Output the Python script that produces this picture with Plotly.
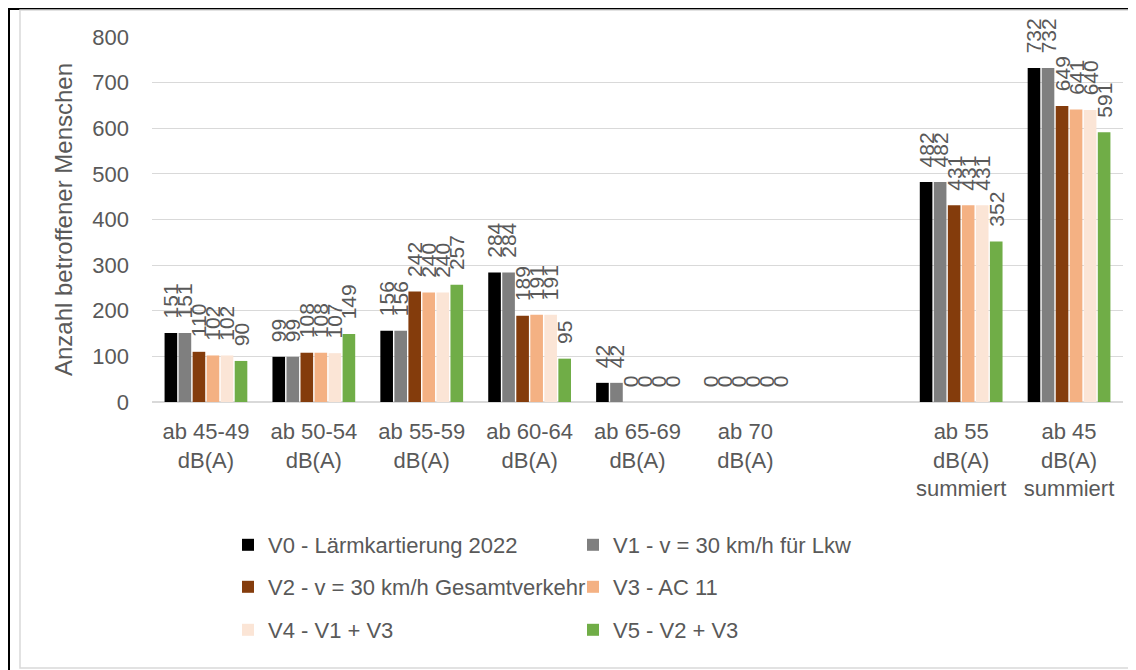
import plotly.graph_objects as go

categories = [
    "ab 45-49<br>dB(A)", "ab 50-54<br>dB(A)", "ab 55-59<br>dB(A)", "ab 60-64<br>dB(A)",
    "ab 65-69<br>dB(A)", "ab 70<br>dB(A)", " ",
    "ab 55<br>dB(A)<br>summiert", "ab 45<br>dB(A)<br>summiert",
]
series_names = [
    "V0 - Lärmkartierung 2022",
    "V1 - v = 30 km/h für Lkw",
    "V2 - v = 30 km/h Gesamtverkehr",
    "V3 - AC 11",
    "V4 - V1 + V3",
    "V5 - V2 + V3",
]
v0 = [151, 99, 156, 284, 42, 0, None, 482, 732]
v1 = [151, 99, 156, 284, 42, 0, None, 482, 732]
v2 = [110, 108, 242, 189, 0, 0, None, 431, 649]
v3 = [102, 108, 240, 191, 0, 0, None, 431, 641]
v4 = [102, 107, 240, 191, 0, 0, None, 431, 640]
v5 = [90, 149, 257, 95, 0, 0, None, 352, 591]
colors = ["#000000", "#7f7f7f", "#843c0c", "#f4b183", "#fbe5d6", "#70ad47"]

FONT = "Liberation Sans, Arial, sans-serif"
GREY_TXT = "#595959"
# page body has an 8px margin, so the figure is a bit smaller than the window
OFF = 8
W, H = 1136 - OFF, 670 - OFF
L, R, T, B = 144, 13, 29, 268


def px_x(sx):
    # screen x -> paper x
    return (sx - OFF - L) / (W - L - R)


def px_y(sy):
    # screen y -> paper y
    return (H - B - (sy - OFF)) / (H - T - B)


fig = go.Figure()
legends = ["legend", "legend", "legend2", "legend2", "legend3", "legend3"]
pad = "\u00a0\u00a0"  # pushes the rotated labels a bit off the bar top, like Excel
for name, vals, col, lg in zip(series_names, [v0, v1, v2, v3, v4, v5], colors, legends):
    fig.add_bar(
        x=categories, y=vals, name=name, marker_color=col, marker_line_width=0,
        text=["" if v is None else pad + str(v) for v in vals],
        textposition="outside", textangle=-90, constraintext="none", cliponaxis=False,
        textfont=dict(family=FONT, size=21, color=GREY_TXT),
        legend=lg,
    )

leg_common = dict(
    orientation="h", x=px_x(228), xanchor="left", yanchor="middle",
    entrywidth=300, font=dict(family=FONT, size=22, color=GREY_TXT),
    bgcolor="rgba(0,0,0,0)",
)

# outer frame: black top/left line and light grey chart border
shapes = [
    dict(type="line", xref="paper", yref="paper", x0=px_x(8), x1=px_x(1140), y0=px_y(9), y1=px_y(9),
         line=dict(color="black", width=2)),
    dict(type="line", xref="paper", yref="paper", x0=px_x(9), x1=px_x(9), y0=px_y(8), y1=px_y(672),
         line=dict(color="black", width=2)),
    dict(type="rect", xref="paper", yref="paper", x0=px_x(20), x1=px_x(1145), y0=px_y(10), y1=px_y(668),
         line=dict(color="#d9d9d9", width=1.5)),
]

fig.update_layout(
    width=W, height=H,
    margin=dict(l=L, r=R, t=T, b=B),
    paper_bgcolor="white", plot_bgcolor="white",
    barmode="group", bargap=0.22, bargroupgap=0.1,
    font=dict(family=FONT, color=GREY_TXT),
    legend=dict(leg_common, y=px_y(545)),
    legend2=dict(leg_common, y=px_y(587)),
    legend3=dict(leg_common, y=px_y(630)),
    shapes=shapes,
    xaxis=dict(
        tickfont=dict(family=FONT, size=22, color=GREY_TXT), showline=False,
        ticklabelstandoff=14,
    ),
    yaxis=dict(
        range=[0, 800], dtick=100, gridcolor="#d9d9d9", gridwidth=1,
        zeroline=True, zerolinecolor="#d9d9d9", zerolinewidth=1.5,
        tickfont=dict(family=FONT, size=22, color=GREY_TXT), ticklabelstandoff=22,
        title=dict(text="Anzahl betroffener Menschen", font=dict(family=FONT, size=24, color=GREY_TXT),
                   standoff=12),
    ),
)

fig.write_html("out.html")
